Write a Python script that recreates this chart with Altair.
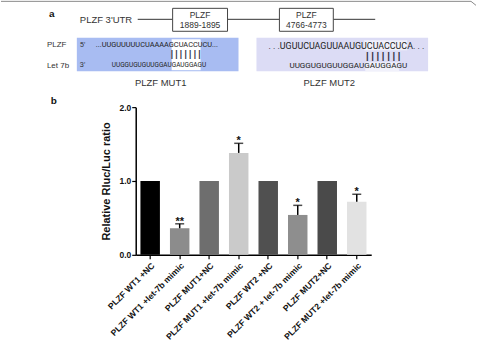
import altair as alt
import pandas as pd

# ---------------- panel b: luciferase reporter assay ----------------
groups = [
    "PLZF WT1 +NC",
    "PLZF WT1 +let-7b mimic",
    "PLZF MUT1+NC",
    "PLZF MUT1 +let-7b mimic",
    "PLZF WT2 +NC",
    "PLZF WT2 + let-7b mimic",
    "PLZF MUT2+NC",
    "PLZF MUT2 +let-7b mimic",
]
ratio = [1.0, 0.36, 1.0, 1.38, 1.0, 0.54, 1.0, 0.72]
sem = [0.0, 0.06, 0.0, 0.13, 0.0, 0.13, 0.0, 0.10]
signif = ["", "**", "", "*", "", "*", "", "*"]
bar_colors = ["#000000", "#8c8c8c", "#6e6e6e", "#cacaca",
              "#505050", "#8e8e8e", "#4a4a4a", "#e2e2e2"]

# ---------------- panel a: binding-site schematic ----------------
utr_label = "PLZF  3'UTR"
site_labels = [("PLZF", "1889-1895"), ("PLZF", "4766-4773")]
plzf_mut1 = "...UUGUUUUUCUAAAAGCUACCUCU..."
plzf_mut2 = ". . .UGUUCUAGUUAAUGUCUACCUCA. . ."
let7b_seq = "UUGGUGUGUUGGAUGAUGGAGU"
pairing = "| | | | | | |"
mut_names = ["PLZF MUT1", "PLZF MUT2"]

SANS = "Liberation Sans"
SEQ = "Roboto"
INK = "#222222"

FIG_W = 477
PLOT_X0 = 135          # left edge of the bar panel's plot area
H_TOP = 90

# schematic coordinates run over the full figure width; the panel itself
# shares its left edge with the bar plot, so earlier x values fall to its left
sx = alt.Scale(domain=[PLOT_X0, FIG_W], nice=False, zero=False)
sy = alt.Scale(domain=[0, H_TOP], nice=False, zero=False, reverse=True)


def X(f):
    return alt.X(f, type="quantitative", scale=sx, axis=None)


def Y(f):
    return alt.Y(f, type="quantitative", scale=sy, axis=None)


# frame line across the top of the figure
frame = pd.DataFrame({"x": [0, 471], "x2": [471, 476], "y": [1, 1], "y2": [1, 5]})
frame_layer = alt.Chart(frame).mark_rule(color="#8a8a8a", strokeWidth=1).encode(
    x=X("x"), x2="x2", y=Y("y"), y2="y2")

# 3'UTR backbone
utr_lines = pd.DataFrame({"x": [137, 227, 333], "x2": [172, 279, 375],
                          "y": [19, 19, 19], "y2": [19, 19, 19]})
utr_layer = alt.Chart(utr_lines).mark_rule(color="#333333", strokeWidth=1).encode(
    x=X("x"), x2="x2", y=Y("y"), y2="y2")

site_boxes = pd.DataFrame({"x": [172, 279], "x2": [227, 333], "y": [8, 8], "y2": [31, 31]})
box_layer = alt.Chart(site_boxes).mark_rect(fill="white", stroke="#444444", strokeWidth=1).encode(
    x=X("x"), x2="x2", y=Y("y"), y2="y2")

# shaded sequence panels and the seed highlights
bands = pd.DataFrame({
    "x": [76, 256, 171, 364, 365],
    "x2": [238, 428, 200, 407, 399],
    "y": [37.5, 37.5, 39, 40, 62],
    "y2": [71, 71, 70, 50, 71],
    "fill": ["#a8bcf2", "#dcdcf5", "#ffffff", "#f1f1fb", "#f1f1fb"],
})
band_layer = alt.Chart(bands).mark_rect().encode(
    x=X("x"), x2="x2", y=Y("y"), y2="y2", color=alt.Color("fill:N", scale=None))


def text_layer(rows, font, size, weight="normal", align="left", color=INK):
    df = pd.DataFrame(rows, columns=["x", "y", "t"])
    return alt.Chart(df).mark_text(
        font=font, fontSize=size, fontWeight=weight, align=align,
        baseline="middle", color=color,
    ).encode(x=X("x"), y=Y("y"), text="t:N")


panel_letters = text_layer([(48, 14, "a")], SANS, 10, "bold", color="#111111")
utr_text = text_layer([(79, 19.5, utr_label)], SANS, 9.5, color="#333333")
box_text = text_layer(
    [(199.5, 15, site_labels[0][0]), (199.5, 25, site_labels[0][1]),
     (306, 15, site_labels[1][0]), (306, 25, site_labels[1][1])],
    SANS, 8.5, align="center", color="#333333")
row_labels = text_layer([(46, 45, "PLZF"), (46, 66, "Let 7b")], SANS, 8, color="#333333")
ends = text_layer([(79, 45, "5'"), (79, 65, "3'")], SEQ, 7.5, color="#333333")
seq_left = text_layer([(95, 45, plzf_mut1)], SEQ, 7.4)
seq_left_mir = text_layer([(111, 64.5, let7b_seq)], SEQ, 6.5)
seq_right = text_layer([(268, 45.5, plzf_mut2)], SEQ, 8.9)
seq_right_mir = text_layer([(289, 66, let7b_seq)], SEQ, 8.1)
pair_left = text_layer([(185, 54.5, pairing)], SANS, 8.3, "bold", align="center", color="#333344")
pair_right = text_layer([(383, 55.5, pairing)], SANS, 9.5, "bold", align="center", color="#333344")
mut_text = text_layer([(160, 83, mut_names[0]), (329, 83, mut_names[1])],
                      SANS, 9.5, align="center", color="#333333")

top = alt.layer(
    frame_layer, band_layer, utr_layer, box_layer, panel_letters, utr_text, box_text,
    row_labels, ends, seq_left, seq_left_mir, seq_right, seq_right_mir,
    pair_left, pair_right, mut_text,
).properties(width=FIG_W - PLOT_X0, height=H_TOP)

# ---------------- panel b chart ----------------
df = pd.DataFrame({
    "group": groups,
    "ratio": ratio,
    "sem": sem,
    "upper": [r + s for r, s in zip(ratio, sem)],
    "star": signif,
    "fill": bar_colors,
})

x_enc = alt.X(
    "group:N", sort=groups, title=None,
    scale=alt.Scale(paddingInner=0.34, paddingOuter=0.16),
    axis=alt.Axis(
        labelAngle=-45, labelFont=SANS, labelFontWeight="bold", labelFontSize=8.6,
        labelColor="#111111", labelPadding=2, domainColor="black", domainWidth=1.5,
        tickColor="black", tickWidth=1.2, tickSize=4,
    ),
)
y_enc = alt.Y(
    "ratio:Q", title="Relative Rluc/Luc ratio",
    scale=alt.Scale(domain=[0, 2], nice=False),
    axis=alt.Axis(
        values=[0, 0.5, 1.0, 1.5, 2.0], format=".1f", grid=False,
        labelFont=SANS, labelFontWeight="bold", labelFontSize=8.5, labelColor="#111111",
        labelPadding=1, domainColor="black", domainWidth=1.5,
        tickColor="black", tickWidth=1.2, tickSize=4,
        titleFont=SANS, titleFontWeight="bold", titleFontSize=11, titleColor="#111111",
        titlePadding=7,
    ),
)

base = alt.Chart(df)
bars = base.mark_bar().encode(x=x_enc, y=y_enc, color=alt.Color("fill:N", scale=None))
with_err = base.transform_filter("datum.sem > 0")
err = with_err.mark_rule(color="black", strokeWidth=1.5).encode(
    x=alt.X("group:N", sort=groups), y="ratio:Q", y2="upper:Q")
caps = with_err.mark_tick(color="black", thickness=1.5, size=9).encode(
    x=alt.X("group:N", sort=groups), y="upper:Q")
stars = base.transform_filter("datum.star != ''").mark_text(
    font=SANS, fontWeight="bold", fontSize=11, baseline="alphabetic", dy=1, color="#111111",
).encode(x=alt.X("group:N", sort=groups), y="upper:Q", text="star:N")

letter_b = alt.Chart(pd.DataFrame({"t": ["b"]})).mark_text(
    font=SANS, fontSize=10, fontWeight="bold", color="#111111", baseline="middle",
).encode(x=alt.value(-82), y=alt.value(-6), text="t:N")
# keeps the top edge of this panel's bounds fixed
anchor = alt.Chart(pd.DataFrame({"t": [0]})).mark_rule(strokeOpacity=0, strokeWidth=0.01).encode(
    x=alt.value(-135), x2=alt.value(-135), y=alt.value(-17), y2=alt.value(-16))

bottom = alt.layer(bars, err, caps, stars, letter_b, anchor).properties(width=236, height=148)

chart = alt.vconcat(top, bottom, spacing=0).properties(
    padding=0, background="white"
).configure_view(stroke=None).configure_axis(grid=False)

chart.save("out.html", embed_options={"renderer": "svg", "actions": False})
